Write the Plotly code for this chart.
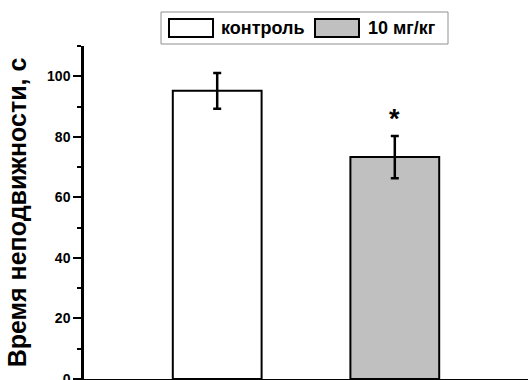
import plotly.graph_objects as go

# Data
groups = ["контроль", "10 мг/кг"]
x_pos = [1, 2]
means = [95.2, 73.3]
errors = [5.9, 7.0]
significance = ["", "*"]
bar_colors = ["#ffffff", "#c0c0c0"]
y_title = "Время неподвижности, с"
y_ticks = [0, 20, 40, 60, 80, 100]

W, H = 529, 380
ML, MR, MT, MB = 84, 1, 46, 1
PW, PH = W - ML - MR, H - MT - MB
FONT = "Liberation Sans, Arial, sans-serif"


def px_x(px):
    return (px - ML) / PW


def px_y(py):
    return (H - MB - py) / PH


fig = go.Figure()
fig.add_trace(go.Bar(
    x=x_pos, y=means, width=0.5,
    marker=dict(color=bar_colors, line=dict(color="black", width=2)),
    error_y=dict(type="data", array=errors, visible=True, color="black",
                 thickness=2.5, width=4),
    showlegend=False,
))

annotations = []
for xi, m, e, s in zip(x_pos, means, errors, significance):
    if s:
        annotations.append(dict(x=xi, y=m + e, xref="x", yref="y", text=s,
                                showarrow=False, yanchor="bottom", yshift=0,
                                font=dict(family=FONT, size=27, color="black", weight="bold")))

# Custom legend (wide swatches)
shapes = [dict(type="rect", xref="paper", yref="paper",
               x0=px_x(161), x1=px_x(448), y0=px_y(44), y1=px_y(12),
               line=dict(color="#909090", width=1), fillcolor="white", layer="above")]
sw_x = [169, 315]
tx_x = [219, 366]
for i, g in enumerate(groups):
    shapes.append(dict(type="rect", xref="paper", yref="paper",
                       x0=px_x(sw_x[i]), x1=px_x(sw_x[i] + 44), y0=px_y(37), y1=px_y(19),
                       line=dict(color="black", width=2), fillcolor=bar_colors[i], layer="above"))
    annotations.append(dict(x=px_x(tx_x[i]), y=px_y(28), xref="paper", yref="paper",
                            text=g, showarrow=False, xanchor="left", yanchor="middle",
                            font=dict(family=FONT, size=18, color="black", weight="bold")))

fig.update_layout(
    width=W, height=H,
    margin=dict(l=ML, r=MR, t=MT, b=MB, pad=0),
    paper_bgcolor="white", plot_bgcolor="white",
    shapes=shapes, annotations=annotations,
    xaxis=dict(range=[0.25, 2.75], showline=True, linecolor="black", linewidth=2.5,
               showticklabels=False, ticks="", showgrid=False, zeroline=False,
               automargin=False),
    yaxis=dict(range=[0, 110], showline=True, linecolor="black", linewidth=2.5,
               automargin=False,
               tickvals=y_ticks, ticks="outside", ticklen=8, tickwidth=2, tickcolor="black",
               ticklabeloverflow="allow",
               minor=dict(dtick=10, tick0=0, ticks="outside", ticklen=4, tickwidth=2,
                          tickcolor="black", showgrid=False),
               tickfont=dict(family=FONT, size=14, color="black", weight="bold"),
               showgrid=False, zeroline=False,
               title=dict(text=y_title, standoff=14,
                          font=dict(family=FONT, size=25, color="black", weight="bold"))),
)

fig.write_html("out.html")
